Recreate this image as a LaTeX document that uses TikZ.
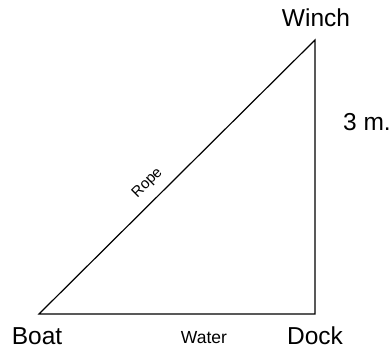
\documentclass[tikz,border=0pt]{standalone}
\usepackage{fontspec}
\setmainfont{Liberation Sans}
\usetikzlibrary{positioning, calc}
\tikzset{
    % Label styles
    biglabel/.style={
        font=\fontsize{24.5}{28}\selectfont,
        inner sep=0pt,
        anchor=base
    },
    smalllabel/.style={
        font=\fontsize{17.5}{20}\selectfont,
        inner sep=0pt,
        anchor=base
    },
    ropelabel/.style={
        font=\fontsize{15}{17}\selectfont,
        inner sep=0pt
    },
    % Line style
    side/.style={
        line width=1.2pt,
        draw=black
    }
}
\begin{document}
\begin{tikzpicture}[x=1pt, y=1pt]
    \useasboundingbox (0,0) rectangle (392,351);

    % Corners
    \coordinate (boat) at (39,37);
    \coordinate (dock) at (315,37);
    \coordinate (winch) at (315,311);

    % Triangle
    \draw[side, line join=miter] (boat) -- (dock) -- (winch)
        -- node[ropelabel, pos=0.565, sloped, above=9pt] (rope) {Rope} cycle;

    % Labels
    \node[biglabel] (boatlbl) at ($(boat)+(-2,-31)$) {Boat};
    \node[biglabel] (docklbl) at ($(dock)+(0,-31)$) {Dock};
    \node[smalllabel] (waterlbl) at (204,7) {Water};
    \node[biglabel] (winchlbl) at ($(winch)+(1,13)$) {Winch};
    \node[biglabel] (height) at (367,220) {3 m.};
\end{tikzpicture}
\end{document}
